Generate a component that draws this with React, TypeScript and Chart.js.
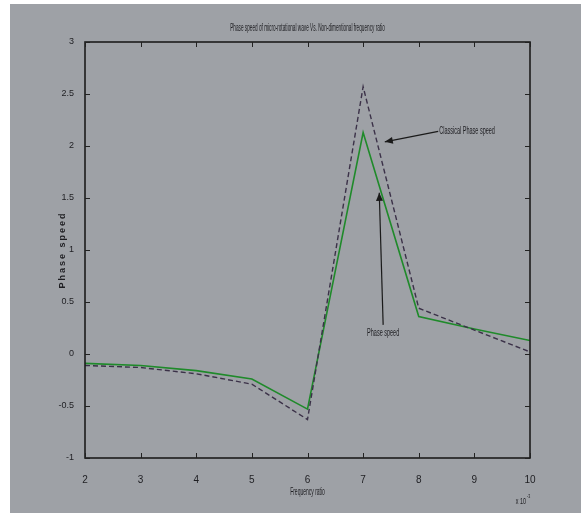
import React, { useEffect, useRef } from "react";
import { Chart, registerables } from "chart.js";

Chart.register(...registerables);

const freqRatio = [2, 3, 4, 5, 6, 7, 8, 9, 10];
const phaseSpeed = [-0.09, -0.11, -0.16, -0.24, -0.53, 2.13, 0.36, 0.24, 0.13];
const classicalPhaseSpeed = [-0.11, -0.13, -0.19, -0.29, -0.63, 2.57, 0.44, 0.23, 0.02];
const yTicks = [-1, -0.5, 0, 0.5, 1, 1.5, 2, 2.5, 3];
const xTicks = [2, 3, 4, 5, 6, 7, 8, 9, 10];

const titleText = "Phase speed of micro-rotational wave Vs. Non-dimentional frequency ratio";
const xLabel = "Frequency ratio";
const yLabel = "Phase speed";
const note1 = "Classical Phase speed";
const note2 = "Phase speed";

const BG = "#9ea1a6";

function narrowText(ctx: CanvasRenderingContext2D, text: string, x: number, y: number, font: string, sx: number, align: "left" | "center" | "right") {
  ctx.save();
  ctx.font = font;
  ctx.fillStyle = "#1e1e22";
  ctx.textBaseline = "middle";
  const w = ctx.measureText(text).width * sx;
  let left = x;
  if (align === "center") left = x - w / 2;
  if (align === "right") left = x - w;
  ctx.translate(left, y);
  ctx.scale(sx, 1);
  ctx.textAlign = "left";
  ctx.fillText(text, 0, 0);
  ctx.restore();
}

function arrow(ctx: CanvasRenderingContext2D, x1: number, y1: number, x2: number, y2: number) {
  ctx.save();
  ctx.strokeStyle = "#1a1a1a";
  ctx.fillStyle = "#1a1a1a";
  ctx.lineWidth = 1.2;
  ctx.beginPath();
  ctx.moveTo(x1, y1);
  ctx.lineTo(x2, y2);
  ctx.stroke();
  const a = Math.atan2(y2 - y1, x2 - x1);
  const L = 8, W = 3.5;
  ctx.beginPath();
  ctx.moveTo(x2, y2);
  ctx.lineTo(x2 - L * Math.cos(a) + W * Math.sin(a), y2 - L * Math.sin(a) - W * Math.cos(a));
  ctx.lineTo(x2 - L * Math.cos(a) - W * Math.sin(a), y2 - L * Math.sin(a) + W * Math.cos(a));
  ctx.closePath();
  ctx.fill();
  ctx.restore();
}

const bgPlugin = {
  id: "bgPlugin",
  beforeDraw(chart: any) {
    const ctx = chart.ctx as CanvasRenderingContext2D;
    ctx.save();
    ctx.fillStyle = "#ffffff";
    ctx.fillRect(0, 0, chart.width, chart.height);
    ctx.fillStyle = BG;
    ctx.fillRect(10, 4, chart.width - 10, chart.height - 4);
    ctx.restore();
  },
};

const decoPlugin = {
  id: "decoPlugin",
  afterDatasetsDraw(chart: any) {
    const ctx = chart.ctx as CanvasRenderingContext2D;
    const { left, right, top, bottom } = chart.chartArea;
    const xs = chart.scales.x;
    const ys = chart.scales.y;
    ctx.save();
    ctx.strokeStyle = "#1c1c1c";
    ctx.lineWidth = 1.6;
    ctx.strokeRect(left, top, right - left, bottom - top);
    ctx.lineWidth = 1;
    ctx.strokeStyle = "#222";
    const tl = 5;
    xTicks.forEach((v) => {
      const px = Math.round(xs.getPixelForValue(v)) + 0.5;
      ctx.beginPath();
      ctx.moveTo(px, bottom);
      ctx.lineTo(px, bottom - tl);
      ctx.moveTo(px, top);
      ctx.lineTo(px, top + tl);
      ctx.stroke();
    });
    yTicks.forEach((v) => {
      const py = Math.round(ys.getPixelForValue(v)) + 0.5;
      ctx.beginPath();
      ctx.moveTo(left, py);
      ctx.lineTo(left + tl, py);
      ctx.moveTo(right, py);
      ctx.lineTo(right - tl, py);
      ctx.stroke();
    });
    ctx.restore();

    narrowText(ctx, titleText, (left + right) / 2, 28, "10px 'Liberation Sans'", 0.47, "center");
    narrowText(ctx, xLabel, (left + right) / 2, 492, "10px 'Liberation Sans'", 0.5, "center");
    narrowText(ctx, "x 10", right - 4, 502, "9px 'Liberation Sans'", 0.6, "right");
    narrowText(ctx, "-3", right - 3, 496, "6px 'Liberation Sans'", 0.6, "left");

    ctx.save();
    ctx.translate(63, (top + bottom) / 2);
    ctx.rotate(-Math.PI / 2);
    ctx.font = "bold 9px 'Liberation Sans'";
    (ctx as any).letterSpacing = "2px";
    ctx.fillStyle = "#1e1e22";
    ctx.textAlign = "center";
    ctx.textBaseline = "middle";
    ctx.fillText(yLabel, 0, 0);
    ctx.restore();

    const p = (x: number, y: number) => [xs.getPixelForValue(x), ys.getPixelForValue(y)];
    const [t1x, t1y] = p(8.35, 2.14);
    const [a1x, a1y] = p(7.39, 2.04);
    arrow(ctx, t1x, t1y, a1x, a1y);
    narrowText(ctx, note1, t1x + 1, t1y, "10px 'Liberation Sans'", 0.55, "left");

    const [s2x, s2y] = p(7.36, 0.28);
    const [e2x, e2y] = p(7.29, 1.55);
    arrow(ctx, s2x, s2y, e2x, e2y);
    const [t2x, t2y] = p(7.36, 0.2);
    narrowText(ctx, note2, t2x, t2y, "10px 'Liberation Sans'", 0.55, "center");
  },
};

export default function App() {
  const ref = useRef<HTMLCanvasElement | null>(null);
  useEffect(() => {
    document.body.style.margin = "0";
    if (!ref.current) return;
    const chart = new Chart(ref.current, {
      type: "line",
      data: {
        datasets: [
          {
            label: "Classical Phase speed",
            data: freqRatio.map((x, i) => ({ x, y: classicalPhaseSpeed[i] })),
            borderColor: "#3b3148",
            borderWidth: 1.4,
            borderDash: [5, 3],
            pointRadius: 0,
            tension: 0,
          },
          {
            label: "Phase speed",
            data: freqRatio.map((x, i) => ({ x, y: phaseSpeed[i] })),
            borderColor: "#1f8a2a",
            borderWidth: 1.6,
            pointRadius: 0,
            tension: 0,
          },
        ],
      },
      options: {
        responsive: false,
        animation: false,
        layout: { padding: { left: 0, top: 42, right: 51, bottom: 0 } },
        plugins: { legend: { display: false }, tooltip: { enabled: false }, title: { display: false } },
        scales: {
          x: {
            type: "linear",
            min: 2,
            max: 10,
            afterBuildTicks: (s: any) => { s.ticks = xTicks.map((v) => ({ value: v })); },
            afterFit: (s: any) => { s.height = 55; },
            grid: { display: false },
            border: { display: false },
            ticks: { color: "#1e1e22", font: { family: "'Liberation Sans'", size: 10 }, padding: 8, maxRotation: 0, callback: (v: any) => String(v) },
          },
          y: {
            type: "linear",
            min: -1,
            max: 3,
            afterBuildTicks: (s: any) => { s.ticks = yTicks.map((v) => ({ value: v })); },
            afterFit: (s: any) => { s.width = 85; },
            grid: { display: false },
            border: { display: false },
            ticks: { color: "#1e1e22", font: { family: "'Liberation Sans'", size: 9 }, padding: 3, callback: (v: any) => String(v) },
          },
        },
      },
      plugins: [bgPlugin, decoPlugin],
    });
    return () => chart.destroy();
  }, []);
  return <canvas ref={ref} width={581} height={513} style={{ display: "block" }} />;
}
